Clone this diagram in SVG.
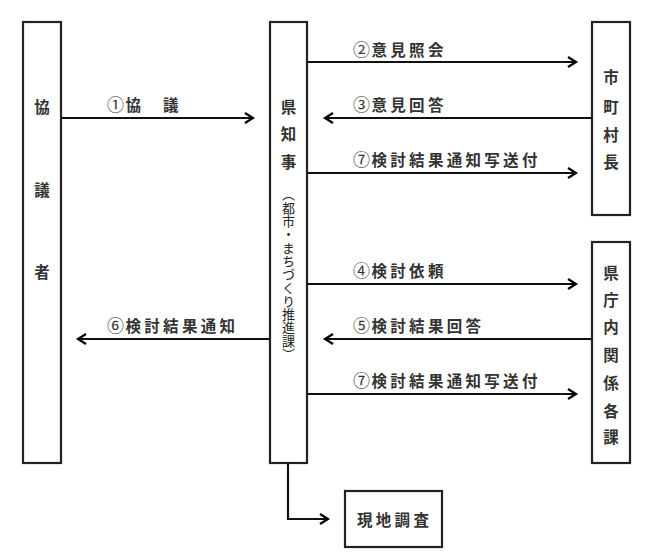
<svg xmlns="http://www.w3.org/2000/svg" width="654" height="555" viewBox="0 0 654 555">
<defs>
<marker id="arr" markerUnits="userSpaceOnUse" markerWidth="14" markerHeight="14" refX="9" refY="6" orient="auto" viewBox="0 0 14 12">
<path d="M1,1 L9,6 L1,11" fill="none" stroke="#000" stroke-width="2.2"/>
</marker>
</defs>
<style>
.box{fill:#fff;stroke:#222;stroke-width:2.2}
.t{font-family:"Noto Sans CJK JP","Noto Sans CJK SC",sans-serif;font-size:15.5px;font-weight:bold;fill:#333;text-anchor:middle}
.lbl{font-family:"Noto Sans CJK JP","Noto Sans CJK SC",sans-serif;font-size:15.5px;font-weight:bold;fill:#333;letter-spacing:3.3px}
.n{font-size:17px;font-weight:normal;letter-spacing:1.5px}
.v{font-family:"Noto Sans CJK JP","Noto Sans CJK SC",sans-serif;font-size:13px;fill:#222;writing-mode:tb;letter-spacing:0.3px}
.ln{fill:none;stroke:#111;stroke-width:2.2;marker-end:url(#arr)}
</style>
<rect width="654" height="555" fill="#fff"/>
<g id="kyogisha">
<rect class="box" x="23" y="22" width="38" height="441"/>
<text class="t" x="42" y="113">協</text>
<text class="t" x="42" y="196">議</text>
<text class="t" x="42" y="278">者</text>
</g>
<g id="chiji">
<rect class="box" x="270" y="22" width="37" height="441"/>
<text class="t" x="288.5" y="113">県</text>
<text class="t" x="288.5" y="140">知</text>
<text class="t" x="288.5" y="168">事</text>
<text class="v" x="288.5" y="188">（都市・まちづくり推進課）</text>
</g>
<g id="shichoson">
<rect class="box" x="592" y="22" width="38" height="193"/>
<text class="t" x="611" y="83">市</text>
<text class="t" x="611" y="113">町</text>
<text class="t" x="611" y="141">村</text>
<text class="t" x="611" y="168">長</text>
</g>
<g id="kankeika">
<rect class="box" x="592" y="242" width="38" height="221"/>
<text class="t" x="611" y="279">県</text>
<text class="t" x="611" y="306">庁</text>
<text class="t" x="611" y="333">内</text>
<text class="t" x="611" y="361">関</text>
<text class="t" x="611" y="389">係</text>
<text class="t" x="611" y="417">各</text>
<text class="t" x="611" y="443">課</text>
</g>
<g id="genchi">
<rect class="box" x="345" y="491" width="97" height="56"/>
<text class="lbl" x="357" y="526">現地調査</text>
</g>
<g id="connectors">
<path class="ln" d="M61,118 H253"/>
<path class="ln" d="M307,62 H576"/>
<path class="ln" d="M592,118 H325"/>
<path class="ln" d="M307,173 H576"/>
<path class="ln" d="M307,284 H576"/>
<path class="ln" d="M592,339 H325"/>
<path class="ln" d="M307,394 H576"/>
<path class="ln" d="M270,339 H78"/>
<path class="ln" d="M288,463 V519 H328"/>
</g>
<g id="labels">
<text class="lbl" x="107" y="111"><tspan class="n">①</tspan>協　議</text>
<text class="lbl" x="353" y="56"><tspan class="n">②</tspan>意見照会</text>
<text class="lbl" x="353" y="111"><tspan class="n">③</tspan>意見回答</text>
<text class="lbl" x="353" y="166"><tspan class="n">⑦</tspan>検討結果通知写送付</text>
<text class="lbl" x="353" y="277"><tspan class="n">④</tspan>検討依頼</text>
<text class="lbl" x="353" y="332"><tspan class="n">⑤</tspan>検討結果回答</text>
<text class="lbl" x="353" y="387"><tspan class="n">⑦</tspan>検討結果通知写送付</text>
<text class="lbl" x="107" y="332"><tspan class="n">⑥</tspan>検討結果通知</text>
</g>
</svg>
